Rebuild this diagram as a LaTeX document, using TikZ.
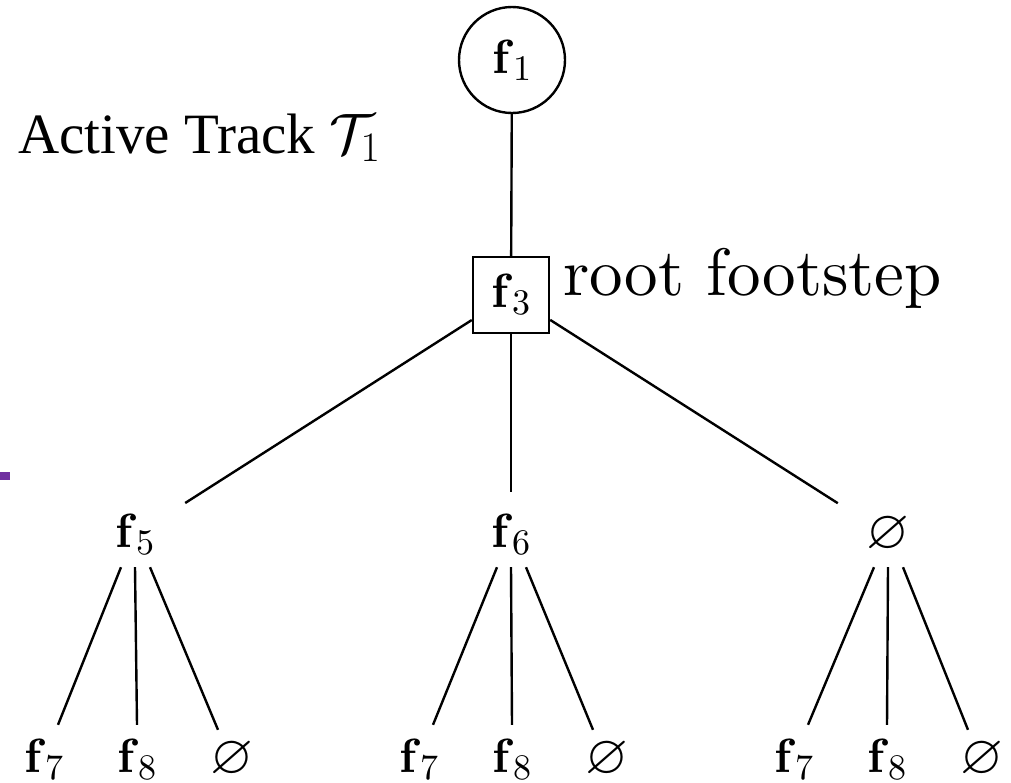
\RequirePackage{fix-cm}
\documentclass[tikz,border=0pt]{standalone}
\usepackage{amssymb}
\usepackage{graphicx}
\usepackage{fontspec}
\setmainfont{lmroman10-regular.otf}[BoldFont=lmroman10-bold.otf, ItalicFont=lmroman10-italic.otf, BoldItalicFont=lmroman10-bolditalic.otf]
\newfontfamily\timesfont{Liberation Serif}
\DeclareMathSizes{57}{57}{42}{32}
\newcommand{\flab}[1]{\textbf{f}\raisebox{-7pt}{\fontsize{36}{42}\selectfont #1}}
\newcommand{\emptylab}{\scalebox{1.15}{$\varnothing$}}
\definecolor{purplemark}{RGB}{112,48,160}
\begin{document}
\begin{tikzpicture}[x=1pt,y=-1pt,
  edge/.style={line width=2.4pt, black},
  lbl/.style={font=\fontsize{48}{56}\selectfont, inner sep=0pt},
  midnode/.style={lbl, minimum width=100pt, minimum height=64pt},
  leaf/.style={lbl, minimum height=70pt},
  circnode/.style={lbl, draw, circle, line width=2.4pt, minimum size=106pt},
  sqnode/.style={lbl, draw, rectangle, line width=2.4pt, minimum size=76pt}]
\useasboundingbox (0,0) rectangle (1011,782);
\fill[purplemark] (0,472) rectangle (10,480);

\node[circnode] (f1) at (512,60) {\flab{1}};
\node[sqnode] (f3) at (511,295) {\flab{3}};
\node[anchor=base west, inner sep=0pt, font=\fontsize{67}{78}\selectfont] (rf) at (563,295) {root footstep};
\node[anchor=base west, inner sep=0pt, font=\timesfont\fontsize{57}{66}\selectfont] (at) at (18,153) {Active Track $\mathcal{T}_1$};

\node[midnode] (f5) at (135,535) {\flab{5}};
\node[midnode] (f6) at (511,535) {\flab{6}};
\node[midnode] (e0) at (888,535) {\emptylab};

\draw[edge] (f1) -- (f3);
\draw[edge] (f3) -- (f5);
\draw[edge] (f3) -- ([yshift=11pt]f6.north);
\draw[edge] (f3) -- (e0);

\foreach \p/\cx/\n in {f5/137/a, f6/512/b, e0/887/c}{
  \node[leaf] (\n1) at (\cx-93,760) {\flab{7}};
  \node[leaf] (\n2) at (\cx,760) {\flab{8}};
  \node[leaf] (\n3) at (\cx+95,760) {\emptylab};
  \draw[edge] ([xshift=-14pt]\p.south) -- ([xshift=14pt]\n1.north);
  \draw[edge] (\p.south) -- (\n2.north);
  \draw[edge] ([xshift=15pt]\p.south) -- ([xshift=-14pt,yshift=-5pt]\n3.north);
}
\end{tikzpicture}
\end{document}
